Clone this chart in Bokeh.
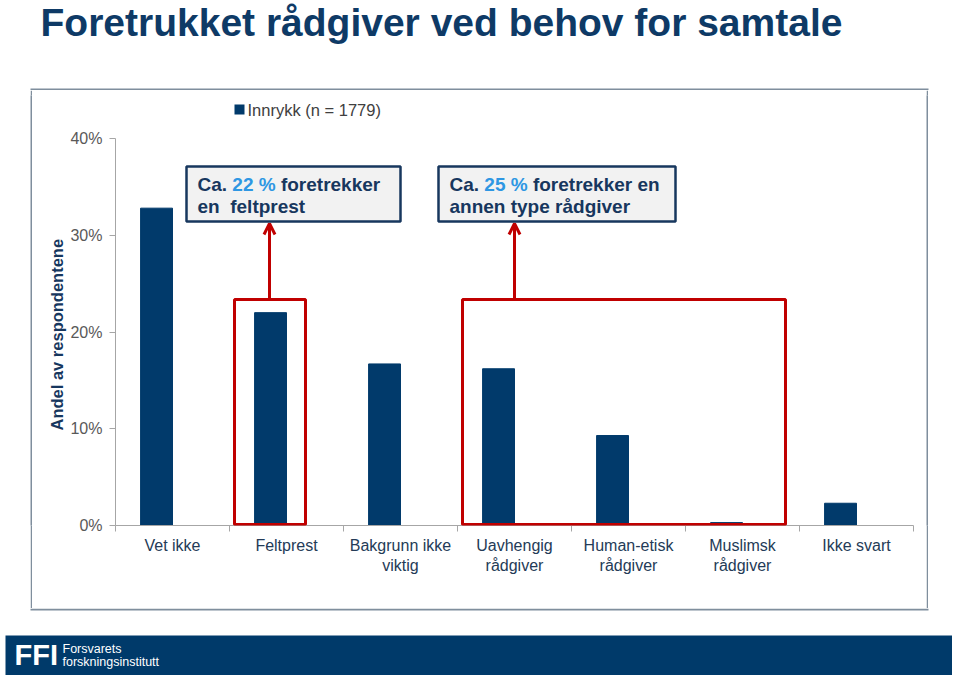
import numpy as np
from bokeh.plotting import figure
from bokeh.layouts import column, row
from bokeh.models import (Range1d, FixedTicker, NumeralTickFormatter, Label, Title,
                          BoxAnnotation, Arrow, OpenHead, Spacer)
from bokeh.embed import file_html
from bokeh.resources import INLINE

# ---------------- data ----------------
title_text = "Foretrukket rådgiver ved behov for samtale"
categories = ["Vet ikke", "Feltprest", "Bakgrunn ikke\nviktig", "Uavhengig\nrådgiver",
              "Human-etisk\nrådgiver", "Muslimsk\nrådgiver", "Ikke svart"]
shares = [0.328, 0.220, 0.167, 0.162, 0.093, 0.003, 0.023]
series_name = "Innrykk (n = 1779)"
y_ticks = [0.0, 0.1, 0.2, 0.3, 0.4]
y_axis_title = "Andel av respondentene"
note1 = ["Ca.", "22 %", "foretrekker", "en\u00a0 feltprest"]
note2 = ["Ca.", "25 %", "foretrekker en", "annen type rådgiver"]
logo_big = "FFI"
logo_lines = ["Forsvarets", "forskningsinstitutt"]

# ---------------- style / layout ----------------
NAVY = "#013a6b"
TXT_NAVY = "#17375e"
BLUE = "#2e97e3"
RED = "#c00000"
BORDER = "#7f8e9d"
FONT = "Liberation Sans"
MID = 0.3465          # distance baseline -> "middle" in em
PAGE_W = 959
BOX_L, BOX_T, BOX_R, BOX_B, BW = 30, 88, 928, 610, 2   # chart box (page px)
IN_L, IN_T, IN_R, IN_B = BOX_L + BW, BOX_T + BW, BOX_R - BW, BOX_B - BW
FRAME_L, FRAME_R = 115, 913
ZERO_Y, FORTY_Y, FRAME_T = 525, 138, 95
PX_PER_UNIT = (ZERO_Y - FORTY_Y) / 0.4
n = len(categories)
cat_w = (FRAME_R - FRAME_L) / n
BAR_W = 0.28
BAR_SHIFT = 0.14
BAN_L, BAN_R, BAN_T, BAN_H = 5, 952, 635, 40


def X(px):
    return (px - FRAME_L) / cat_w


def Y(py):
    return (ZERO_Y - py) / PX_PER_UNIT


def bare(w, h, color=None, **kw):
    f = figure(width=w, height=h, output_backend="svg", toolbar_location=None,
               x_axis_type=None, y_axis_type=None, min_border=0, title=None, **kw)
    f.outline_line_color = None
    f.grid.visible = False
    if color is not None:
        f.background_fill_color = color
        f.border_fill_color = color
    return f


def hline(fig, y0):
    fig.add_layout(BoxAnnotation(left=BOX_L, right=BOX_R, top=y0, bottom=y0 + BW,
                                 fill_color=BORDER, fill_alpha=1, line_color=None))


# ---------------- title strip (with top edge of chart box) ----------------
tfig = bare(PAGE_W, IN_T, x_range=Range1d(0, PAGE_W), y_range=Range1d(IN_T, 0))
TS = 39
tfig.add_layout(Label(x=40, y=36 - MID * TS, text=title_text, text_font=FONT,
                      text_font_size=f"{TS}px", text_font_style="bold",
                      text_color="#0e3a66", text_baseline="middle"))
hline(tfig, BOX_T)

# ---------------- main chart ----------------
p = figure(width=IN_R - IN_L, height=IN_B - IN_T, output_backend="svg",
           toolbar_location=None, title=None,
           x_range=Range1d(0, n), y_range=Range1d(0, (ZERO_Y - FRAME_T) / PX_PER_UNIT),
           min_border_left=FRAME_L - IN_L, min_border_right=IN_R - FRAME_R,
           min_border_top=FRAME_T - IN_T, min_border_bottom=IN_B - ZERO_Y)
p.outline_line_color = None
p.grid.visible = False

centers = np.arange(n) + 0.5
p.vbar(x=centers - BAR_SHIFT, top=shares, width=BAR_W, color=NAVY)

xa = p.xaxis[0]
xa.ticker = FixedTicker(ticks=list(centers), minor_ticks=list(np.arange(n + 1)))
xa.major_label_overrides = {float(c): lab for c, lab in zip(centers, categories)}
xa.major_tick_line_color = None
xa.major_tick_out = 0
xa.major_tick_in = 0
xa.minor_tick_out = 6
xa.minor_tick_in = 0
xa.minor_tick_line_color = "#a6a6a6"
xa.axis_line_color = "#a6a6a6"
xa.major_label_standoff = 5
xa.major_label_text_font = FONT
xa.major_label_text_font_size = "16px"
xa.major_label_text_color = "#243b57"

ya = p.yaxis[0]
ya.ticker = FixedTicker(ticks=y_ticks)
ya.formatter = NumeralTickFormatter(format="0%")
ya.bounds = (0, 0.4)
ya.major_tick_out = 6
ya.major_tick_in = 0
ya.minor_tick_line_color = None
ya.major_tick_line_color = "#a6a6a6"
ya.axis_line_color = "#a6a6a6"
ya.major_label_standoff = 7
ya.major_label_text_font = FONT
ya.major_label_text_font_size = "16px"
ya.major_label_text_color = "#595959"

# y axis title: starts 95 px above the frame bottom (text ends near 0 % .. 40 % centre)
p.add_layout(Title(text=y_axis_title, align="left", offset=95, standoff=3,
                   text_font=FONT, text_font_size="16.5px", text_font_style="bold",
                   text_color=TXT_NAVY), "left")


def lab(text, px, py_base, size, color, bold=False):
    p.add_layout(Label(x=X(px), y=Y(py_base - MID * size), text=text, text_font=FONT,
                       text_font_size=f"{size}px", text_color=color,
                       text_font_style="bold" if bold else "normal",
                       text_align="left", text_baseline="middle"))


# legend
p.add_layout(BoxAnnotation(left=X(234), right=X(244), top=Y(104), bottom=Y(114),
                           fill_color=NAVY, fill_alpha=1, line_color=None))
p.add_layout(Label(x=X(247), y=Y(109), text=series_name, text_font=FONT,
                   text_font_size="16.5px", text_color="#404040", text_baseline="middle"))

# red highlight boxes + arrows
for l, r in [(234, 305), (462, 785)]:
    p.add_layout(BoxAnnotation(left=X(l), right=X(r), top=Y(299), bottom=Y(524),
                               fill_color=None, line_color=RED, line_alpha=1,
                               line_width=3))
for ax in [269, 514]:
    p.add_layout(Arrow(x_start=X(ax), y_start=Y(299), x_end=X(ax), y_end=Y(223),
                       line_color=RED, line_width=3,
                       end=OpenHead(size=11, line_color=RED, line_width=3)))

# note boxes
FS = 19
W_CA = 1.834 * FS             # "Ca. "
W_PCT = (2.279 + 0.278) * FS  # "22 % "
for (l, r), note in [((186, 400), note1), ((438, 675), note2)]:
    p.add_layout(BoxAnnotation(left=X(l), right=X(r), top=Y(166), bottom=Y(221),
                               fill_color="#f2f2f2", fill_alpha=1,
                               line_color=TXT_NAVY, line_alpha=1, line_width=2.5))
    x0 = l + 11
    lab(note[0], x0, 191, FS, TXT_NAVY, bold=True)
    lab(note[1], x0 + W_CA, 191, FS, BLUE, bold=True)
    lab(note[2], x0 + W_CA + W_PCT, 191, FS, TXT_NAVY, bold=True)
    lab(note[3], x0, 213, FS, TXT_NAVY, bold=True)

# ---------------- gap strip (with bottom edge of chart box) ----------------
gfig = bare(PAGE_W, BAN_T - IN_B, x_range=Range1d(0, PAGE_W), y_range=Range1d(BAN_T, IN_B))
hline(gfig, IN_B)

# ---------------- banner ----------------
bfig = bare(BAN_R - BAN_L, BAN_H, color="#003a6a",
            x_range=Range1d(BAN_L, BAN_R), y_range=Range1d(BAN_T + BAN_H, BAN_T))
bfig.add_layout(Label(x=14, y=654, text=logo_big, text_font=FONT, text_font_size="29px",
                      text_font_style="bold", text_color="white", text_baseline="middle"))
bfig.add_layout(Label(x=62, y=648.5, text=logo_lines[0], text_font=FONT,
                      text_font_size="12.5px", text_color="white", text_baseline="middle"))
bfig.add_layout(Label(x=62, y=661.5, text=logo_lines[1], text_font=FONT,
                      text_font_size="12.5px", text_color="white", text_baseline="middle"))

layout = column(
    tfig,
    row(Spacer(width=BOX_L, height=IN_B - IN_T), bare(BW, IN_B - IN_T, color=BORDER),
        p, bare(BW, IN_B - IN_T, color=BORDER)),
    gfig,
    row(Spacer(width=BAN_L, height=BAN_H), bfig),
)

open("out.html", "w").write(file_html(layout, INLINE))
